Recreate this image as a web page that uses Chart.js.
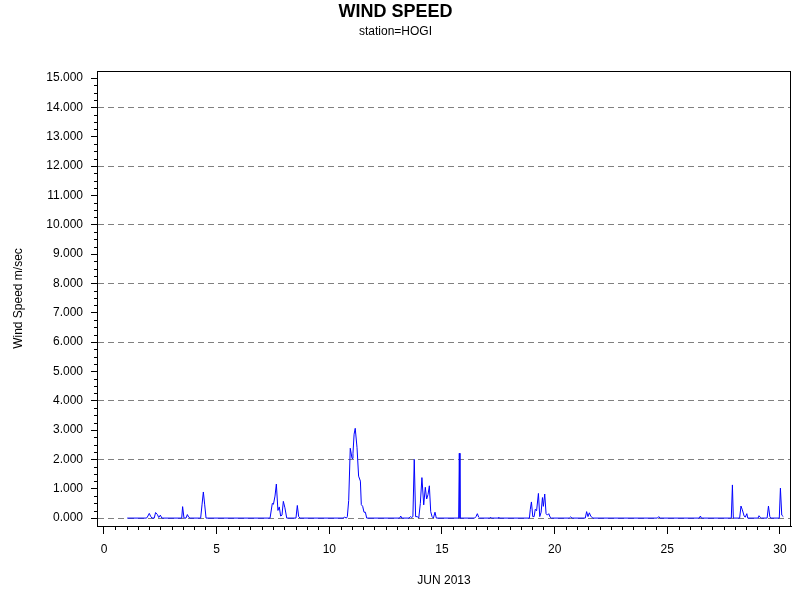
<!DOCTYPE html>
<html>
<head>
<meta charset="utf-8">
<script src="https://cdn.jsdelivr.net/npm/chart.js@4/dist/chart.umd.min.js"></script>
<style>
  body { margin: 0; background: #fff; }
  #windChart { display: block; }
</style>
</head>
<body>
<canvas id="windChart" width="800" height="600"></canvas>
<script>
// day of June 2013 (fractional) and wind speed m/sec
const dayValues = [
  1.03, 1.89, 1.95, 2.01, 2.07, 2.13, 2.23, 2.29, 2.37, 2.43, 2.50, 2.57,
  3.45, 3.49, 3.55, 3.64, 3.70, 3.76, 3.82, 4.29, 4.35, 4.41, 4.47, 4.53,
  7.37, 7.47, 7.52, 7.59, 7.65, 7.72, 7.78, 7.84, 7.90, 7.96, 8.03, 8.11,
  8.52, 8.58, 8.64, 8.70,
  10.61, 10.68, 10.76, 10.80, 10.86, 10.93, 11.01, 11.05, 11.10, 11.15, 11.23, 11.30,
  11.38, 11.42, 11.48, 11.54, 11.60, 11.66,
  13.12, 13.17, 13.21, 13.54, 13.60, 13.66, 13.71, 13.77, 13.83, 13.91, 13.97,
  14.04, 14.11, 14.19, 14.26, 14.32, 14.38, 14.44, 14.50, 14.56, 14.62, 14.69, 14.75,
  15.74, 15.77, 15.80, 16.45, 16.51, 16.57, 16.63, 16.67,
  17.13, 17.16, 17.19, 17.49, 17.52, 17.55,
  18.88, 18.92, 18.97, 19.03, 19.09, 19.14, 19.20, 19.28, 19.34, 19.40, 19.46, 19.50,
  19.56, 19.62, 19.68, 19.74, 19.80, 19.85,
  20.65, 20.71, 20.77, 21.36, 21.42, 21.48, 21.54, 21.60, 21.69,
  24.56, 24.62, 24.68, 26.42, 26.47, 26.51,
  27.84, 27.89, 27.93, 28.21, 28.27, 28.33, 28.41, 28.46, 28.53, 28.57,
  29.03, 29.07, 29.13, 29.18, 29.43, 29.49, 29.55, 29.59,
  29.97, 30.02, 30.08, 30.15
];
const windSpeed = [
  0, 0, 0.07, 0.16, 0.06, 0, 0, 0.19, 0.12, 0.02, 0.10, 0,
  0, 0.39, 0, 0, 0.12, 0.03, 0, 0, 0.45, 0.89, 0.45, 0,
  0, 0.50, 0.47, 0.75, 1.16, 0.26, 0.38, 0.07, 0.10, 0.57, 0.35, 0,
  0, 0.43, 0.05, 0,
  0, 0.03, 0, 0.05, 0.60, 2.38, 2.03, 2.21, 2.86, 3.06, 2.40, 1.43,
  1.26, 0.46, 0.40, 0.20, 0.20, 0,
  0, 0.07, 0, 0, 0.05, 0.02, 0.05, 2.00, 0.05, 0.05, 0,
  0.50, 1.38, 0.45, 1.05, 0.65, 0.80, 1.10, 0.22, 0.05, 0, 0.20, 0,
  0, 2.21, 0, 0, 0.05, 0.15, 0.03, 0,
  0, 0.03, 0, 0, 0.03, 0,
  0, 0.30, 0.55, 0.05, 0.05, 0.30, 0.25, 0.84, 0.05, 0.20, 0.70, 0.40,
  0.82, 0.15, 0.10, 0.15, 0.03, 0,
  0, 0.04, 0, 0, 0.22, 0.05, 0.18, 0.07, 0,
  0, 0.05, 0, 0, 0.07, 0,
  0, 1.13, 0, 0, 0.41, 0.28, 0.07, 0.03, 0.15, 0,
  0, 0.08, 0.02, 0, 0, 0.41, 0.05, 0,
  0, 1.02, 0.10, 0.05
];

const xRange = [-0.31, 30.49];
const yRange = [-0.27, 15.24];

Chart.defaults.font.family = "'Liberation Sans', Arial, sans-serif";
Chart.defaults.color = "#000";

// frame around the plot plus the small minor tick marks
const frameAndMinorTicks = {
  id: "frameAndMinorTicks",
  afterDraw(chart) {
    const ctx = chart.ctx;
    const area = chart.chartArea;
    const xs = chart.scales.x;
    const ys = chart.scales.y;
    ctx.save();
    ctx.strokeStyle = "#000";
    ctx.lineWidth = 1;
    ctx.strokeRect(area.left + 0.5, area.top + 0.5, area.right - area.left - 1, area.bottom - area.top);
    ctx.beginPath();
    for (let i = 1; i < 61; i++) {
      if (i % 10 === 0) continue;
      const px = Math.round(xs.getPixelForValue(i / 2)) + 0.5;
      ctx.moveTo(px, area.bottom);
      ctx.lineTo(px, area.bottom + 4);
    }
    for (let i = 1; i < 61; i++) {
      if (i % 4 === 0) continue;
      const py = Math.round(ys.getPixelForValue(i / 4)) + 0.5;
      ctx.moveTo(area.left - 3, py);
      ctx.lineTo(area.left, py);
    }
    ctx.stroke();
    ctx.restore();
  },
};

new Chart(document.getElementById("windChart"), {
  type: "line",
  data: {
    datasets: [
      {
        label: "Wind Speed",
        data: dayValues.map((d, i) => ({ x: d, y: windSpeed[i] })),
        borderColor: "#0000ff",
        borderWidth: 1,
        pointRadius: 0,
        tension: 0,
        fill: false,
      },
    ],
  },
  options: {
    responsive: false,
    animation: false,
    devicePixelRatio: 1,
    layout: { padding: { left: 0, right: 9, top: 0, bottom: 0 } },
    plugins: {
      legend: { display: false },
      tooltip: { enabled: false },
      title: {
        display: true,
        text: "WIND SPEED",
        font: { size: 18, weight: "bold" },
        padding: { top: 1, bottom: 0 },
      },
      subtitle: {
        display: true,
        text: "station=HOGI",
        font: { size: 12 },
        padding: { top: 2, bottom: 32 },
      },
    },
    scales: {
      x: {
        type: "linear",
        min: xRange[0],
        max: xRange[1],
        afterFit(scale) { scale.height = 74; },
        ticks: {
          stepSize: 5,
          includeBounds: false,
          padding: 8,
          maxRotation: 0,
          font: { size: 12 },
          callback: (v) => String(v),
        },
        grid: { drawOnChartArea: false, tickLength: 8, color: "#000" },
        border: { color: "#000" },
        title: {
          display: true,
          text: "JUN 2013",
          font: { size: 12 },
          padding: { top: 0, bottom: 12 },
        },
      },
      y: {
        type: "linear",
        min: yRange[0],
        max: yRange[1],
        afterFit(scale) { scale.width = 97; },
        ticks: {
          stepSize: 1,
          includeBounds: false,
          padding: 8,
          font: { size: 12 },
          callback: (v) => v.toFixed(3),
        },
        grid: {
          tickLength: 6,
          tickColor: "#000",
          color: (ctx) => (ctx.tick && ctx.tick.value % 2 === 0 ? "#808080" : "rgba(0,0,0,0)"),
        },
        border: { color: "#000", dash: [6, 4] },
        title: {
          display: true,
          text: "Wind Speed m/sec",
          font: { size: 12 },
          padding: { top: 11, bottom: 0 },
        },
      },
    },
  },
  plugins: [frameAndMinorTicks],
});
</script>
</body>
</html>
